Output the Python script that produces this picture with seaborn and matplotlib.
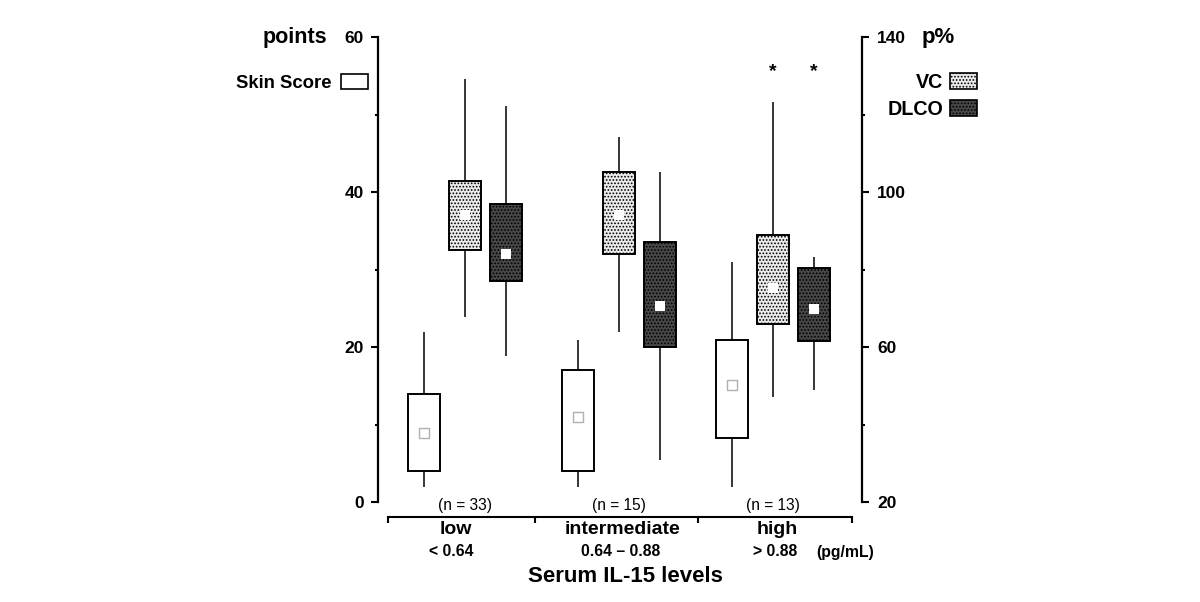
import numpy as np
import pandas as pd
import matplotlib
matplotlib.use("Agg")
import matplotlib.pyplot as plt
import seaborn as sns
from matplotlib.patches import Patch

# ---------------- data ----------------
groups = ["low", "intermediate", "high"]
group_ranges = ["< 0.64", "0.64 – 0.88", "> 0.88"]
n_labels = ["(n = 33)", "(n = 15)", "(n = 13)"]
measures = ["Skin Score", "VC", "DLCO"]

# each entry: [whisker low, Q1, centre marker, Q3, whisker high]
skin_score = [[1.9, 4.0, 8.9, 13.9, 21.9],
              [1.9, 4.0, 11.0, 17.0, 20.9],
              [1.9, 8.3, 15.1, 20.9, 31.0]]
vc = [[67.7, 85.0, 94.1, 102.8, 129.2],
      [63.9, 84.0, 94.1, 105.2, 114.2],
      [47.1, 65.9, 75.2, 88.9, 123.2]]
dlco = [[57.7, 77.0, 84.0, 96.9, 122.2],
        [30.8, 60.0, 70.6, 87.1, 105.2],
        [48.9, 61.5, 69.8, 80.4, 83.2]]
significant = [False, False, True]

left_ticks = [0, 20, 40, 60]
left_minor = [10, 30, 50]
right_ticks = [20, 60, 100, 140]
right_minor = [40, 80, 120]

rows = []
for name, series in zip(measures, [skin_score, vc, dlco]):
    for g, stats in zip(groups, series):
        for v in stats:
            rows.append({"group": g, "measure": name, "value": v})
box_df = pd.DataFrame(rows)
med_rows = []
for name, series in zip(measures, [skin_score, vc, dlco]):
    for g, stats in zip(groups, series):
        med_rows.append({"group": g, "measure": name, "value": stats[2]})
med_df = pd.DataFrame(med_rows)

# ---------------- style ----------------
sns.set_style("ticks")
plt.rcParams["font.family"] = ["Liberation Sans", "DejaVu Sans"]
plt.rcParams["hatch.linewidth"] = 0.8
for k in ("text.color", "axes.labelcolor", "xtick.color", "ytick.color", "axes.edgecolor"):
    plt.rcParams[k] = "black"

W, H = 1200, 602
def fx(x):
    return x / W
def fy(y):
    return 1 - y / H

fig = plt.figure(figsize=(12, 6.02), dpi=100)
ax = fig.add_axes([fx(378), fy(502), 484 / W, 465 / H])
ax2 = ax.twinx()

palette = {"Skin Score": "white", "VC": "#ebebeb", "DLCO": "#474747"}
common = dict(x="group", y="value", hue="measure", order=groups, hue_order=measures,
              palette=palette, width=0.8, gap=0.22, whis=np.inf, linecolor="black",
              linewidth=1.4, dodge=True, showcaps=False,
              medianprops={"visible": False}, whiskerprops={"linewidth": 1.1},
              legend=False)

sns.boxplot(data=box_df[box_df.measure == "Skin Score"], ax=ax, **common)
sns.boxplot(data=box_df[box_df.measure != "Skin Score"], ax=ax2, **common)

hatches = {"VC": ".....", "DLCO": "....."}
for p in ax2.patches:
    fc = matplotlib.colors.to_hex(p.get_facecolor())
    if fc == palette["VC"]:
        p.set_hatch(hatches["VC"])
    elif fc == palette["DLCO"]:
        p.set_hatch(hatches["DLCO"])

strip = dict(x="group", y="value", hue="measure", order=groups, hue_order=measures,
             dodge=True, jitter=False, marker="s", legend=False, zorder=5,
             palette={m: "white" for m in measures})
sns.stripplot(data=med_df[med_df.measure == "Skin Score"], ax=ax, size=6.5,
              linewidth=1, edgecolor="#b0b0b0", **strip)
sns.stripplot(data=med_df[med_df.measure != "Skin Score"], ax=ax2, size=6.5,
              linewidth=0, **strip)

xlim = (-0.565, 2.578)
ax.set_xlim(*xlim)
ax2.set_xlim(*xlim)
ax.set_ylim(0, 60)
ax2.set_ylim(20, 140)

for a in (ax, ax2):
    a.set_xlabel("")
    a.set_ylabel("")
    a.tick_params(axis="x", bottom=False, labelbottom=False, top=False)
    for s in ("top", "bottom"):
        a.spines[s].set_visible(False)
ax.spines["right"].set_visible(False)
ax2.spines["left"].set_visible(False)
ax.spines["left"].set_linewidth(1.6)
ax2.spines["right"].set_linewidth(1.6)

ax.set_yticks(left_ticks)
ax.set_yticks(left_minor, minor=True)
ax2.set_yticks(right_ticks)
ax2.set_yticks(right_minor, minor=True)
ax.tick_params(axis="y", which="major", length=5, width=1.5, labelsize=12.5, pad=5)
ax.tick_params(axis="y", which="minor", length=2.5, width=1.5)
ax2.tick_params(axis="y", which="major", length=5, width=1.5, labelsize=12.5, pad=6)
ax2.tick_params(axis="y", which="minor", length=2.5, width=1.5)
for lbl in ax.get_yticklabels() + ax2.get_yticklabels():
    lbl.set_fontweight("bold")

# significance stars above VC and DLCO
offset = 0.8 / 3
for i, sig in enumerate(significant):
    if sig:
        for k in (1, 2):
            ax2.text(i + (k - 1) * offset, 131.0, "*", ha="center", va="center",
                     fontsize=14, fontweight="bold")

# n labels
for i, t in enumerate(n_labels):
    ax.text(i, -0.45, t, ha="center", va="center", fontsize=11.2)

# category axis below
axc = fig.add_axes([fx(378), fy(517), 484 / W, 0.0001])
axc.set_xlim(*xlim)
sep_ticks = [-0.5, 0.4545, 1.513, 2.513]
axc.set_xticks(sep_ticks)
axc.tick_params(axis="x", length=4, width=1.5, labelbottom=False, direction="out")
axc.set_yticks([])
for s in ("top", "left", "right"):
    axc.spines[s].set_visible(False)
axc.spines["bottom"].set_bounds(sep_ticks[0], sep_ticks[-1])
axc.spines["bottom"].set_linewidth(1.5)
axc.patch.set_alpha(0)

label_px = [456, 623, 777]
range_px = [451, 621, 775]
for g, r, xl, xr in zip(groups, group_ranges, label_px, range_px):
    fig.text(fx(xl), fy(530), g, ha="center", va="center", fontsize=14, fontweight="bold")
    fig.text(fx(xr), fy(552), r, ha="center", va="center", fontsize=11.3, fontweight="bold")
fig.text(fx(816), fy(552), "(pg/mL)", ha="left", va="center", fontsize=11.3, fontweight="bold")
fig.text(fx(625), fy(576), "Serum IL-15 levels", ha="center", va="center", fontsize=16,
         fontweight="bold")

fig.text(fx(327), fy(38), "points", ha="right", va="center", fontsize=15.5, fontweight="bold")
fig.text(fx(922), fy(38), "p%", ha="left", va="center", fontsize=16, fontweight="bold")

# legends
h1 = [Patch(facecolor=palette["Skin Score"], edgecolor="black", linewidth=1.2)]
fig.legend(h1, ["Skin Score"], loc="center right", bbox_to_anchor=(fx(368), fy(83)),
           frameon=False, markerfirst=False, prop={"weight": "bold", "size": 13.3},
           handlelength=1.45, handleheight=0.85, borderpad=0, borderaxespad=0,
           handletextpad=0.55)
h2 = [Patch(facecolor=palette["VC"], edgecolor="black", linewidth=1.2, hatch=hatches["VC"]),
      Patch(facecolor=palette["DLCO"], edgecolor="black", linewidth=1.2, hatch=hatches["DLCO"])]
fig.legend(h2, ["VC", "DLCO"], loc="center right", bbox_to_anchor=(fx(977), fy(96)),
           frameon=False, markerfirst=False, prop={"weight": "bold", "size": 14.2},
           handlelength=1.35, handleheight=0.9, borderpad=0, borderaxespad=0,
           handletextpad=0.35, labelspacing=0.4)

fig.savefig("out.png", dpi=100)
